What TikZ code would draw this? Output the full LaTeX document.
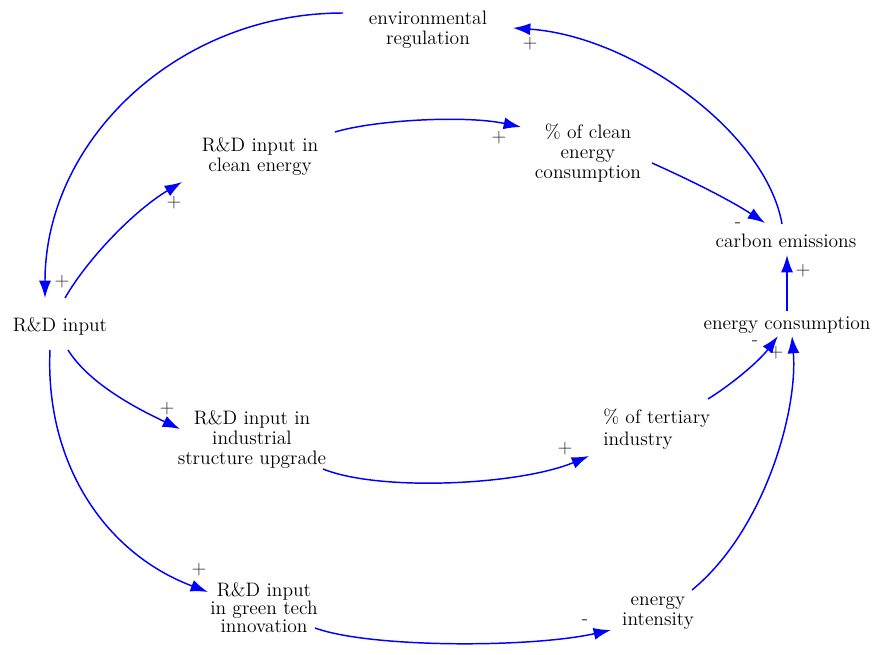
\documentclass[tikz,border=0pt]{standalone}
\usetikzlibrary{arrows.meta,calc}
\definecolor{linkblue}{RGB}{0,0,255}
\begin{document}
\begin{tikzpicture}[x=0.75pt,y=-0.75pt,
  txt/.style={inner sep=0pt,align=center,font=\rmfamily\fontsize{14.6}{15}\selectfont},
  sgn/.style={inner sep=0pt,font=\rmfamily\fontsize{14.6}{15}\selectfont,text=black!85},
  link/.style={draw=linkblue,line width=1.1pt,-{Latex[length=13pt,width=9pt]}}]
\useasboundingbox (0,0) rectangle (875,654);
% variables
\node[txt] (env) at (428,30) {environmental\\regulation};
\node[txt] (rdc) at (260,157) {R\&D input in\\clean energy};
\node[txt] (pcc) at (588,153) {\% of clean\\energy\\consumption};
\node[txt] (ce) at (786,241) {carbon emissions};
\node[txt] (ec) at (787,325) {energy consumption};
\node[txt] (rd) at (60,326) {R\&D input};
\node[txt] (rdi) at (252,440) {R\&D input in\\industrial\\structure upgrade};
\node[txt,align=left,anchor=west,font=\rmfamily\fontsize{14.6}{16.5}\selectfont] (tert) at (603,429) {\% of tertiary\\industry};
\node[txt,font=\rmfamily\fontsize{14.6}{13.5}\selectfont] (rdg) at (264,608) {R\&D input\\in green tech\\innovation};
\node[txt] (ei) at (658,613) {energy\\intensity};
% links
\draw[link] ($(env)+(-85,-17)$) .. controls (178,13) and (45,140) .. ($(rd)+(-15,-28)$);
\draw[link] ($(ce)+(-4,-17)$) .. controls (766,132) and (632,36) .. ($(env)+(85,-2)$);
\draw[link] ($(rd)+(5,-28)$) .. controls (88,258) and (135,210) .. ($(rdc)+(-78,25)$);
\draw[link] ($(rdc)+(75,-25)$) .. controls (375,120) and (465,115) .. ($(pcc)+(-67,-26)$);
\draw[link] ($(pcc)+(64,10)$) .. controls (690,180) and (730,200) .. ($(ce)+(-21,-18)$);
\draw[link] ($(ec)+(0,-14)$) -- ($(ce)+(1,14)$);
\draw[link] ($(rd)+(8,24)$) .. controls (90,385) and (140,410) .. ($(rdi)+(-72,-11)$);
\draw[link] ($(rdi)+(71,29)$) .. controls (380,492) and (520,485) .. ($(tert.west)+(-14,27)$);
\draw[link] ($(tert.west)+(105,-30)$) .. controls (735,382) and (760,360) .. ($(ec)+(-9,11)$);
\draw[link] ($(rd)+(-10,24)$) .. controls (45,460) and (102,552) .. ($(rdg)+(-56,-16)$);
\draw[link] ($(rdg)+(51,20)$) .. controls (370,648) and (530,648) .. ($(ei)+(-47,17)$);
\draw[link] ($(ei)+(34,-23)$) .. controls (765,530) and (798,410) .. ($(ec)+(5,11)$);
% polarities
\node[sgn] (p1) at (530,44) {+};
\node[sgn] (p2) at (62,282) {+};
\node[sgn] (p3) at (174,203) {+};
\node[sgn] (p4) at (499,138) {+};
\node[sgn] (p5) at (738,225) {-};
\node[sgn] (p6) at (803,271) {+};
\node[sgn] (p7) at (755,343) {-};
\node[sgn] (p8) at (776,353) {+};
\node[sgn] (p9) at (167,409) {+};
\node[sgn] (p10) at (565,449) {+};
\node[sgn] (p11) at (199,570) {+};
\node[sgn] (p12) at (585,622) {-};
\end{tikzpicture}
\end{document}
